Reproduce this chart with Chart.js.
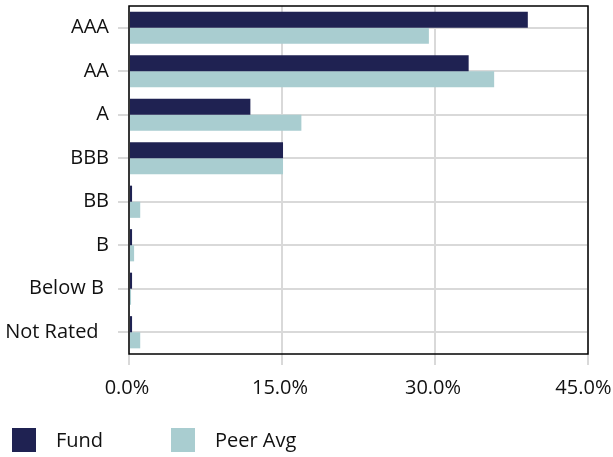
<!DOCTYPE html>
<html>
<head>
<meta charset="utf-8">
<script src="https://cdn.jsdelivr.net/npm/chart.js@4.4.1/dist/chart.umd.min.js"></script>
<style>
  html, body { margin: 0; padding: 0; background: #fff; }
  #wrap { position: relative; width: 613px; height: 457px; font-family: "Open Sans", sans-serif; }
  #chartRating { position: absolute; left: 0; top: 0; }
  .leyenda { position: absolute; top: 426px; display: flex; align-items: center; font-size: 20px; color: #111; }
  .leyenda span.caja { width: 24px; height: 24px; display: inline-block; margin-right: 20px; }
</style>
</head>
<body>
<div id="wrap">
  <canvas id="chartRating" width="613" height="457"></canvas>
  <div class="leyenda" style="left:12px"><span class="caja" style="background:#1f2252"></span>Fund</div>
  <div class="leyenda" style="left:171px"><span class="caja" style="background:#a9cdd0"></span>Peer Avg</div>
</div>
<script>
// calidad crediticia: fondo vs promedio de pares
const categorias = ["AAA", "AA", "A", "BBB", "BB", "B", "Below B ", "Not Rated  "];
const fondo = [39.1, 33.3, 11.9, 15.1, 0.3, 0.3, 0.3, 0.3];
const pares = [29.4, 35.8, 16.9, 15.1, 1.1, 0.5, 0.2, 1.1];
const ticksX = [0, 15, 30, 45];

const COLOR_FONDO = "#1f2252";
const COLOR_PARES = "#a9cdd0";
const GRID = "#d9d9d9";

// marco negro alrededor del area del grafico
const marco = {
  id: "marco",
  afterDraw(chart) {
    const { ctx, chartArea: a } = chart;
    ctx.save();
    ctx.strokeStyle = "#000";
    ctx.lineWidth = 1.5;
    ctx.strokeRect(a.left, a.top, a.right - a.left, a.bottom - a.top);
    ctx.restore();
  },
};

// sin relleno extra por etiquetas que sobresalen
const sinPadding = (s) => {
  s.paddingLeft = 0; s.paddingRight = 0; s.paddingTop = 0; s.paddingBottom = 0;
};

const ctx = document.getElementById("chartRating").getContext("2d");
new Chart(ctx, {
  type: "bar",
  data: {
    labels: categorias,
    datasets: [
      { label: "Fund", data: fondo, backgroundColor: COLOR_FONDO },
      { label: "Peer Avg", data: pares, backgroundColor: COLOR_PARES },
    ],
  },
  options: {
    indexAxis: "y",
    responsive: false,
    animation: false,
    datasets: { bar: { barPercentage: 1, categoryPercentage: 0.74 } },
    layout: { padding: { left: 0, right: 25, top: 6, bottom: 63 } },
    scales: {
      x: {
        min: 0,
        max: 45,
        afterBuildTicks: (s) => { s.ticks = ticksX.map((v) => ({ value: v })); },
        afterFit: (s) => { s.height = 40; sinPadding(s); },
        ticks: {
          color: "#111",
          font: { family: "Open Sans", size: 20 },
          padding: 11,
          labelOffset: -2,
          maxRotation: 0,
          // el ultimo se corre un poco para que quepa
          callback: (v) => Number(v).toFixed(1) + "%" + (v === 45 ? " " : ""),
        },
        grid: { color: GRID, lineWidth: 2, tickLength: 11 },
        border: { display: false },
      },
      y: {
        afterFit: (s) => { s.width = 129; sinPadding(s); },
        ticks: {
          color: "#111",
          font: { family: "Open Sans", size: 20 },
          padding: 9,
        },
        grid: { color: GRID, lineWidth: 2, tickLength: 11, offset: false },
        border: { display: false },
      },
    },
    plugins: {
      legend: { display: false },
      tooltip: { enabled: false },
    },
  },
  plugins: [marco],
});
</script>
</body>
</html>
